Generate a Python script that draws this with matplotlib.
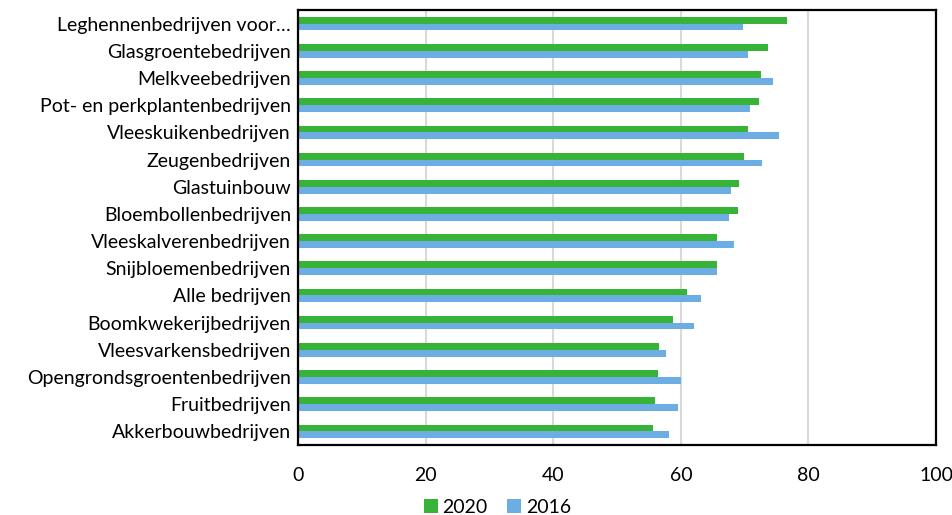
import numpy as np
import matplotlib.pyplot as plt

plt.rcParams['font.family'] = ['Lato', 'DejaVu Sans']

# bedrijfstypen, van boven naar beneden
categories = [
    "Leghennenbedrijven voor\u2026",
    "Glasgroentebedrijven",
    "Melkveebedrijven",
    "Pot- en perkplantenbedrijven",
    "Vleeskuikenbedrijven",
    "Zeugenbedrijven",
    "Glastuinbouw",
    "Bloembollenbedrijven",
    "Vleeskalverenbedrijven",
    "Snijbloemenbedrijven",
    "Alle bedrijven",
    "Boomkwekerijbedrijven",
    "Vleesvarkensbedrijven",
    "Opengrondsgroentenbedrijven",
    "Fruitbedrijven",
    "Akkerbouwbedrijven",
]

values_2020 = [76.6, 73.6, 72.6, 72.2, 70.6, 69.9, 69.1, 69.0,
               65.6, 65.6, 60.9, 58.8, 56.6, 56.5, 56.0, 55.6]
values_2016 = [69.7, 70.6, 74.5, 70.9, 75.4, 72.7, 67.9, 67.6,
               68.3, 65.6, 63.1, 62.0, 57.6, 60.0, 59.5, 58.1]

xticks = [0, 20, 40, 60, 80, 100]

green = "#37b337"
blue = "#6cade4"

fig = plt.figure(figsize=(9.53, 5.15), dpi=100)
ax = fig.add_axes([0.3127, 0.1359, 0.6695, 0.8447])

y = np.arange(len(categories))
h = 0.25
ax.barh(y - h / 2, values_2020, height=h, color=green, label="2020", zorder=3)
ax.barh(y + h / 2, values_2016, height=h, color=blue, label="2016", zorder=3)

ax.set_xlim(0, 100)
ax.set_ylim(len(categories) - 0.5, -0.5)
ax.set_xticks(xticks)
ax.set_yticks(y)
ax.set_yticklabels(categories, fontsize=14)
ax.tick_params(axis='x', labelsize=14, length=0, pad=16)
ax.tick_params(axis='y', length=0, pad=5)

ax.grid(axis='x', color="#d9d9d9", linewidth=1.5, zorder=0)
for s in ax.spines.values():
    s.set_color("black")
    s.set_linewidth(1.6)
    s.set_zorder(4)

fig.legend(loc="lower center", bbox_to_anchor=(0.522, -0.036), ncol=2,
           frameon=False, fontsize=14, handlelength=0.7, handleheight=0.7,
           handletextpad=0.25, columnspacing=1.0)

fig.savefig("out.png", dpi=100)
